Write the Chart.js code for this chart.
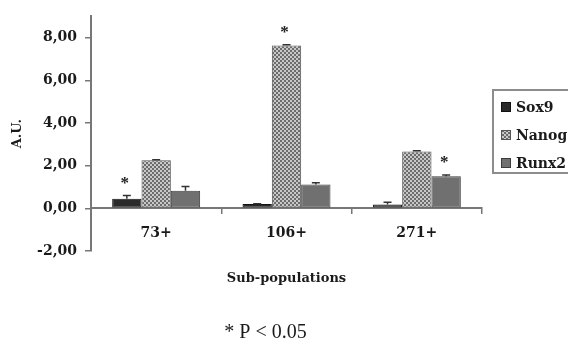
<!DOCTYPE html>
<html>
<head>
<meta charset="utf-8">
<script src="https://cdn.jsdelivr.net/npm/chart.js@4.4.1/dist/chart.umd.min.js"></script>
<style>
  html, body { margin: 0; padding: 0; background: #fff; }
  #wrap { width: 568px; height: 343px; }
</style>
</head>
<body>
<div id="wrap"><canvas id="chart" width="568" height="343"></canvas></div>
<script>
// Datos
const categorias = ['73+', '106+', '271+'];
const series = ['Sox9', 'Nanog', 'Runx2'];
const sox9 = [0.45, 0.2, 0.18];
const nanog = [2.25, 7.64, 2.67];
const runx2 = [0.82, 1.12, 1.51];
const errSox9 = [0.15, 0.02, 0.1];
const errNanog = [0.03, 0.03, 0.03];
const errRunx2 = [0.2, 0.08, 0.05];
const sigSox9 = [true, false, false];
const sigNanog = [false, true, false];
const sigRunx2 = [false, false, true];
const yTicks = [-2, 0, 2, 4, 6, 8];
const ejeX = 'Sub-populations';
const ejeY = 'A.U.';
const nota = '* P < 0.05';

const canvas = document.getElementById('chart');
const ctx = canvas.getContext('2d');

// Trama a cuadros para Nanog
function tramaCuadros() {
  const c = document.createElement('canvas');
  c.width = 4; c.height = 4;
  const g = c.getContext('2d');
  g.fillStyle = '#c8c8c8';
  g.fillRect(0, 0, 4, 4);
  g.fillStyle = '#6c6c6c';
  g.fillRect(0, 0, 2, 2);
  g.fillRect(2, 2, 2, 2);
  return ctx.createPattern(c, 'repeat');
}

const serif = "'DejaVu Serif', 'Liberation Serif', serif";

// Barras de error, asteriscos, leyenda y textos
const extras = {
  id: 'extras',
  afterDatasetsDraw(chart) {
    const c = chart.ctx;
    const y = chart.scales.y;
    chart.data.datasets.forEach((ds, i) => {
      const meta = chart.getDatasetMeta(i);
      meta.data.forEach((bar, j) => {
        const top = y.getPixelForValue(ds.data[j] + ds.err[j]);
        c.save();
        c.strokeStyle = '#333';
        c.lineWidth = 1.5;
        c.beginPath();
        c.moveTo(bar.x, bar.y);
        c.lineTo(bar.x, top);
        c.moveTo(bar.x - 4, top);
        c.lineTo(bar.x + 4, top);
        c.stroke();
        if (ds.sig[j]) {
          c.fillStyle = '#222';
          c.font = "bold 17px 'Liberation Serif', serif";
          c.textAlign = 'center';
          c.textBaseline = 'middle';
          c.fillText('*', bar.x - 2, top - 12);
        }
        c.restore();
      });
    });
  },
  afterDraw(chart) {
    const c = chart.ctx;
    const area = chart.chartArea;
    c.save();
    // Leyenda con marco
    c.strokeStyle = '#8c8c8c';
    c.lineWidth = 2;
    c.strokeRect(493, 90, 100, 83);
    c.font = 'bold 14px ' + serif;
    c.textBaseline = 'middle';
    c.textAlign = 'left';
    chart.data.datasets.forEach((ds, i) => {
      const cy = 107 + i * 28;
      c.fillStyle = ds.backgroundColor;
      c.fillRect(501, cy - 5, 10, 10);
      c.strokeStyle = ds.borderColor;
      c.lineWidth = 1;
      c.strokeRect(501.5, cy - 4.5, 9, 9);
      c.fillStyle = '#1a1a1a';
      c.fillText(ds.label, 516, cy + 1);
    });
    // Título del eje X y nota
    c.textAlign = 'center';
    c.fillStyle = '#1a1a1a';
    c.font = 'bold 13px ' + serif;
    c.fillText(ejeX, (area.left + area.right) / 2, area.bottom + 28);
    c.font = "20px 'Liberation Serif', serif";
    c.fillText(nota, (area.left + area.right) / 2 - 21, area.bottom + 82);
    c.restore();
  }
};

const dataset = (label, data, err, sig, bg, border) => ({
  label, data, err, sig,
  backgroundColor: bg,
  borderColor: border,
  borderWidth: 1,
  borderSkipped: false,
  barPercentage: 1,
  categoryPercentage: 0.675
});

new Chart(ctx, {
  type: 'bar',
  data: {
    labels: categorias,
    datasets: [
      dataset(series[0], sox9, errSox9, sigSox9, '#2a2a2a', '#111'),
      dataset(series[1], nanog, errNanog, sigNanog, tramaCuadros(), '#555'),
      dataset(series[2], runx2, errRunx2, sigRunx2, '#707070', '#3c3c3c')
    ]
  },
  options: {
    responsive: false,
    animation: false,
    devicePixelRatio: 1,
    layout: { padding: { top: 13, right: 86, bottom: 92, left: 0 } },
    plugins: {
      legend: { display: false },
      tooltip: { enabled: false }
    },
    scales: {
      x: {
        position: { y: 0 },
        offset: true,
        grid: { drawOnChartArea: false, tickLength: 5, color: '#777', lineWidth: 1.5, offset: true },
        border: { color: '#777', width: 2 },
        ticks: { color: '#1a1a1a', padding: 12, font: { family: serif, size: 14, weight: 'bold' } }
      },
      y: {
        min: -2,
        max: 9,
        afterBuildTicks: s => { s.ticks = yTicks.map(v => ({ value: v })); },
        afterFit: s => { s.width = 91; },
        grid: { drawOnChartArea: false, tickLength: 6, color: '#777', lineWidth: 1.5 },
        border: { color: '#777', width: 2 },
        ticks: {
          color: '#1a1a1a',
          padding: 8,
          font: { family: serif, size: 14, weight: 'bold' },
          callback: v => v.toFixed(2).replace('.', ',')
        },
        title: {
          display: true,
          text: ejeY,
          color: '#1a1a1a',
          padding: { top: 10, bottom: 0 },
          font: { family: serif, size: 13, weight: 'bold' }
        }
      }
    }
  },
  plugins: [extras]
});
</script>
</body>
</html>
